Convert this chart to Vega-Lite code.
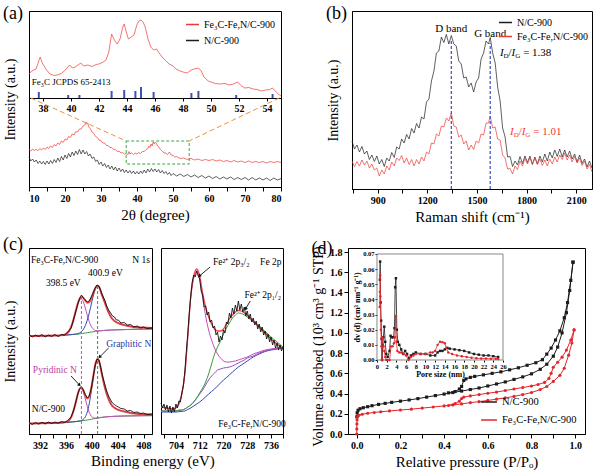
{
"$schema": "https://vega.github.io/schema/vega-lite/v6.json",
"padding": {"left": 2, "top": 4, "right": 2, "bottom": 0},
"spacing": 10,
"resolve": {"scale": {"color": "independent"}, "legend": {"color": "independent"}},
"config": {
 "font": "Liberation Serif",
 "view": {"stroke": "#000", "strokeWidth": 1},
 "axis": {"grid": false, "domainColor": "#000", "tickColor": "#000", "labelColor": "#000", "titleColor": "#000", "labelFont": "Liberation Serif", "labelFontWeight": "bold", "labelFontSize": 10, "titleFont": "Liberation Serif", "titleFontWeight": "normal", "titleFontSize": 15, "tickSize": 4, "labelPadding": 2, "titlePadding": 4, "labelOverlap": false},
 "legend": {"labelFont": "Liberation Serif", "labelFontSize": 10, "labelColor": "#000", "symbolStrokeWidth": 1.5, "rowPadding": 0, "padding": 0},
 "title": {"font": "Liberation Serif", "fontSize": 18, "fontWeight": "normal", "anchor": "start", "frame": "bounds", "offset": -12, "color": "#000"},
 "text": {"font": "Liberation Serif"}
},
"datasets": {
 "aRed": [{"x":10,"y":37.5},{"x":10.5,"y":36},{"x":11,"y":38},{"x":11.5,"y":36.5},{"x":12,"y":37.8},{"x":12.5,"y":36.2},{"x":13,"y":38.5},{"x":13.5,"y":37},{"x":14,"y":39},{"x":14.5,"y":37.5},{"x":15,"y":40},{"x":15.5,"y":38.5},{"x":16,"y":41},{"x":16.5,"y":39.5},{"x":17,"y":42.5},{"x":17.5,"y":41},{"x":18,"y":44},{"x":18.5,"y":42.5},{"x":19,"y":46},{"x":19.5,"y":44.5},{"x":20,"y":48},{"x":20.5,"y":47},{"x":21,"y":50.5},{"x":21.5,"y":49.5},{"x":22,"y":53},{"x":22.5,"y":52},{"x":23,"y":55.5},{"x":23.5,"y":55},{"x":24,"y":58},{"x":24.5,"y":58},{"x":25,"y":61},{"x":25.5,"y":62},{"x":25.8,"y":65},{"x":26,"y":63},{"x":26.3,"y":64},{"x":26.6,"y":60},{"x":27,"y":58.5},{"x":27.5,"y":55},{"x":28,"y":53.5},{"x":28.5,"y":50.5},{"x":29,"y":49.5},{"x":29.5,"y":46.8},{"x":30,"y":46.5},{"x":30.5,"y":44},{"x":31,"y":44},{"x":31.5,"y":41.5},{"x":32,"y":41.5},{"x":32.5,"y":39.5},{"x":33,"y":39.5},{"x":33.5,"y":37.5},{"x":34,"y":37.5},{"x":34.5,"y":35.5},{"x":35,"y":36},{"x":35.5,"y":34},{"x":36,"y":34.5},{"x":36.5,"y":33},{"x":37,"y":33.5},{"x":37.5,"y":32.5},{"x":37.8,"y":35.5},{"x":38,"y":33},{"x":38.5,"y":34},{"x":39,"y":32.5},{"x":39.5,"y":34},{"x":40,"y":33},{"x":40.5,"y":34.5},{"x":41,"y":33.5},{"x":41.5,"y":35.5},{"x":42,"y":35.5},{"x":42.5,"y":37.5},{"x":43,"y":38.5},{"x":43.3,"y":41},{"x":43.6,"y":39.5},{"x":43.9,"y":43},{"x":44.2,"y":41},{"x":44.5,"y":45},{"x":44.8,"y":43},{"x":45.1,"y":45},{"x":45.4,"y":43.5},{"x":45.7,"y":41},{"x":46,"y":40.5},{"x":46.5,"y":37.5},{"x":47,"y":36},{"x":47.5,"y":34},{"x":48,"y":34},{"x":48.5,"y":32.5},{"x":49,"y":35},{"x":49.5,"y":32},{"x":50,"y":31.5},{"x":50.5,"y":30},{"x":51,"y":30.5},{"x":52,"y":28.5},{"x":53,"y":29},{"x":54,"y":27.5},{"x":55,"y":28.5},{"x":56,"y":27},{"x":57,"y":28},{"x":58,"y":26.5},{"x":59,"y":27.5},{"x":60,"y":26.5},{"x":61,"y":27.5},{"x":62,"y":26},{"x":63,"y":27},{"x":64,"y":25.5},{"x":65,"y":26.5},{"x":66,"y":25},{"x":67,"y":26.5},{"x":68,"y":25},{"x":69,"y":26},{"x":70,"y":24.5},{"x":71,"y":26},{"x":72,"y":24.5},{"x":73,"y":25.5},{"x":74,"y":24.5},{"x":75,"y":25.5},{"x":76,"y":24},{"x":77,"y":25.5},{"x":78,"y":24.5},{"x":79,"y":25.5},{"x":80,"y":24.5}],
 "aBlack": [{"x":10,"y":30},{"x":10.5,"y":26},{"x":11,"y":28},{"x":11.5,"y":25},{"x":12,"y":27},{"x":12.5,"y":23.5},{"x":13,"y":26},{"x":13.5,"y":23},{"x":14,"y":25.5},{"x":14.5,"y":22.5},{"x":15,"y":26},{"x":15.5,"y":23},{"x":16,"y":26.5},{"x":16.5,"y":23.5},{"x":17,"y":27.5},{"x":17.5,"y":24.5},{"x":18,"y":29},{"x":18.5,"y":25.5},{"x":19,"y":30.5},{"x":19.5,"y":27},{"x":20,"y":32},{"x":20.5,"y":28.5},{"x":21,"y":33.5},{"x":21.5,"y":30},{"x":22,"y":35},{"x":22.5,"y":31.5},{"x":23,"y":36},{"x":23.5,"y":32.5},{"x":24,"y":37.5},{"x":24.5,"y":33},{"x":25,"y":37},{"x":25.5,"y":33},{"x":26,"y":35.5},{"x":26.5,"y":31},{"x":27,"y":33},{"x":27.5,"y":28.5},{"x":28,"y":30},{"x":28.5,"y":25.5},{"x":29,"y":27},{"x":29.5,"y":22.5},{"x":30,"y":25},{"x":30.5,"y":21},{"x":31,"y":23.5},{"x":31.5,"y":19.5},{"x":32,"y":22},{"x":32.5,"y":18},{"x":33,"y":21},{"x":33.5,"y":17},{"x":34,"y":20},{"x":34.5,"y":16},{"x":35,"y":19},{"x":35.5,"y":15.5},{"x":36,"y":18},{"x":36.5,"y":14.5},{"x":37,"y":17},{"x":37.5,"y":14},{"x":38,"y":16.5},{"x":38.5,"y":13.5},{"x":39,"y":16},{"x":39.5,"y":13},{"x":40,"y":15.5},{"x":40.5,"y":13},{"x":41,"y":16},{"x":41.5,"y":13.5},{"x":42,"y":17},{"x":42.5,"y":14},{"x":43,"y":18},{"x":43.5,"y":15},{"x":44,"y":18.5},{"x":44.5,"y":15.5},{"x":45,"y":18},{"x":45.5,"y":15},{"x":46,"y":17.5},{"x":46.5,"y":14},{"x":47,"y":16.5},{"x":47.5,"y":13.5},{"x":48,"y":15.5},{"x":48.5,"y":12.5},{"x":49,"y":14.5},{"x":49.5,"y":11.5},{"x":50,"y":13.5},{"x":51,"y":11},{"x":52,"y":13},{"x":53,"y":10.5},{"x":54,"y":12.5},{"x":55,"y":10},{"x":56,"y":12},{"x":57,"y":9.5},{"x":58,"y":11.5},{"x":59,"y":9},{"x":60,"y":11},{"x":61,"y":8.5},{"x":62,"y":10.5},{"x":63,"y":8},{"x":64,"y":10},{"x":65,"y":8},{"x":66,"y":10},{"x":67,"y":7.5},{"x":68,"y":9.5},{"x":69,"y":7.5},{"x":70,"y":9.5},{"x":71,"y":7},{"x":72,"y":9.5},{"x":73,"y":7},{"x":74,"y":9},{"x":75,"y":7},{"x":76,"y":9},{"x":77,"y":6.5},{"x":78,"y":9},{"x":79,"y":7},{"x":80,"y":8.5}],
 "aInset": [{"x":37,"y":113},{"x":37.2,"y":116},{"x":37.5,"y":118},{"x":37.65,"y":124},{"x":37.8,"y":130},{"x":37.95,"y":124},{"x":38.2,"y":118},{"x":38.5,"y":113},{"x":38.8,"y":111.5},{"x":39,"y":112},{"x":39.3,"y":113.5},{"x":39.6,"y":117},{"x":39.9,"y":122},{"x":40.1,"y":119},{"x":40.3,"y":120},{"x":40.5,"y":122},{"x":40.7,"y":124},{"x":40.9,"y":121},{"x":41.2,"y":122},{"x":41.5,"y":120.5},{"x":41.8,"y":122.5},{"x":42,"y":123},{"x":42.3,"y":125},{"x":42.5,"y":127},{"x":42.7,"y":135},{"x":42.9,"y":153},{"x":43.1,"y":147},{"x":43.3,"y":143},{"x":43.5,"y":148},{"x":43.7,"y":160},{"x":43.8,"y":163},{"x":43.95,"y":155},{"x":44.1,"y":148},{"x":44.3,"y":150},{"x":44.5,"y":152},{"x":44.7,"y":162},{"x":44.85,"y":166},{"x":45,"y":167},{"x":45.15,"y":165},{"x":45.3,"y":160},{"x":45.5,"y":148},{"x":45.7,"y":140},{"x":45.9,"y":137},{"x":46.1,"y":138},{"x":46.3,"y":134},{"x":46.5,"y":130},{"x":46.8,"y":126},{"x":47,"y":123},{"x":47.3,"y":121},{"x":47.5,"y":118},{"x":47.8,"y":116},{"x":48,"y":115},{"x":48.3,"y":114},{"x":48.6,"y":117},{"x":48.8,"y":118},{"x":49.1,"y":119},{"x":49.3,"y":116},{"x":49.5,"y":110},{"x":49.8,"y":106},{"x":50,"y":105},{"x":50.3,"y":103.5},{"x":50.6,"y":103},{"x":51,"y":103.5},{"x":51.3,"y":102},{"x":51.6,"y":103},{"x":51.9,"y":105},{"x":52.1,"y":102},{"x":52.4,"y":99},{"x":52.7,"y":99.5},{"x":53,"y":98},{"x":53.3,"y":97.5},{"x":53.6,"y":96},{"x":53.9,"y":97},{"x":54.2,"y":97.5},{"x":54.4,"y":99},{"x":54.6,"y":96},{"x":54.8,"y":93},{"x":55,"y":91}],
 "aRef": [{"x":37.7,"y":89,"y2":95},{"x":39.8,"y":89,"y2":92},{"x":40.6,"y":89,"y2":92},{"x":42.9,"y":89,"y2":96},{"x":43.8,"y":89,"y2":97},{"x":44.6,"y":89,"y2":96},{"x":45.0,"y":89,"y2":100},{"x":45.9,"y":89,"y2":95},{"x":48.6,"y":89,"y2":94},{"x":49.1,"y":89,"y2":96},{"x":51.8,"y":89,"y2":92},{"x":54.4,"y":89,"y2":93}],
 "aTxt": [{"x":37.2,"y":105,"t":"Fe₃C   JCPDS 65-2413"}],
 "aBox": [{"x":37,"x2":54.5,"y":23,"y2":46}],
 "aZoom": [{"x":10.5,"y":89,"x2":37,"y2":46},{"x":79.5,"y":89,"x2":54.5,"y2":46}],
 "bK": [{"x":745,"y":48},{"x":760,"y":40},{"x":775,"y":44},{"x":790,"y":37},{"x":805,"y":42.5},{"x":820,"y":35},{"x":835,"y":38},{"x":850,"y":29.5},{"x":865,"y":34},{"x":880,"y":27.5},{"x":895,"y":33},{"x":910,"y":25},{"x":925,"y":29.5},{"x":940,"y":22.5},{"x":955,"y":31},{"x":970,"y":28},{"x":985,"y":36.5},{"x":1000,"y":31.5},{"x":1015,"y":42},{"x":1030,"y":40},{"x":1045,"y":50},{"x":1060,"y":46},{"x":1075,"y":54.5},{"x":1090,"y":50},{"x":1105,"y":60.5},{"x":1120,"y":56},{"x":1135,"y":65.5},{"x":1150,"y":61},{"x":1165,"y":72},{"x":1180,"y":70},{"x":1195,"y":87},{"x":1210,"y":90},{"x":1225,"y":108},{"x":1240,"y":118},{"x":1255,"y":136},{"x":1270,"y":138},{"x":1285,"y":152},{"x":1300,"y":146.5},{"x":1315,"y":154.5},{"x":1330,"y":145},{"x":1345,"y":153.5},{"x":1360,"y":145},{"x":1375,"y":143},{"x":1390,"y":128},{"x":1405,"y":125},{"x":1420,"y":111},{"x":1435,"y":112},{"x":1450,"y":102},{"x":1465,"y":106},{"x":1480,"y":97},{"x":1495,"y":107},{"x":1510,"y":111},{"x":1525,"y":130},{"x":1540,"y":136},{"x":1555,"y":148},{"x":1570,"y":145},{"x":1580,"y":151.5},{"x":1595,"y":136},{"x":1610,"y":126},{"x":1625,"y":102},{"x":1640,"y":88},{"x":1655,"y":61},{"x":1670,"y":52},{"x":1685,"y":32},{"x":1700,"y":32.5},{"x":1715,"y":22.5},{"x":1730,"y":28},{"x":1745,"y":24},{"x":1760,"y":32.5},{"x":1775,"y":25.5},{"x":1790,"y":33},{"x":1805,"y":26.5},{"x":1820,"y":33},{"x":1835,"y":24.5},{"x":1850,"y":32},{"x":1865,"y":25},{"x":1880,"y":33},{"x":1895,"y":27},{"x":1910,"y":35},{"x":1925,"y":28},{"x":1940,"y":37},{"x":1955,"y":31},{"x":1970,"y":39},{"x":1985,"y":32.5},{"x":2000,"y":40},{"x":2015,"y":32},{"x":2030,"y":39},{"x":2045,"y":32},{"x":2060,"y":38},{"x":2075,"y":30},{"x":2090,"y":35},{"x":2105,"y":27},{"x":2120,"y":34},{"x":2135,"y":25.5},{"x":2150,"y":30},{"x":2165,"y":22},{"x":2180,"y":28},{"x":2195,"y":21}],
 "bR": [{"x":745,"y":28},{"x":760,"y":22.5},{"x":775,"y":27.5},{"x":790,"y":23},{"x":805,"y":29},{"x":820,"y":24},{"x":835,"y":28},{"x":850,"y":21},{"x":865,"y":25},{"x":880,"y":19},{"x":895,"y":21},{"x":910,"y":13},{"x":925,"y":19},{"x":940,"y":15},{"x":955,"y":23},{"x":970,"y":19},{"x":985,"y":27},{"x":1000,"y":23},{"x":1015,"y":31},{"x":1030,"y":28.5},{"x":1045,"y":33.5},{"x":1060,"y":26},{"x":1075,"y":31},{"x":1090,"y":24.5},{"x":1105,"y":29.5},{"x":1120,"y":23},{"x":1135,"y":29.5},{"x":1150,"y":25},{"x":1165,"y":32},{"x":1180,"y":28},{"x":1195,"y":37},{"x":1210,"y":35},{"x":1225,"y":46},{"x":1240,"y":45},{"x":1255,"y":55},{"x":1270,"y":53},{"x":1285,"y":63},{"x":1300,"y":62},{"x":1315,"y":71},{"x":1330,"y":68},{"x":1345,"y":76},{"x":1360,"y":63},{"x":1375,"y":62},{"x":1390,"y":52},{"x":1405,"y":54},{"x":1420,"y":45},{"x":1435,"y":48},{"x":1450,"y":39},{"x":1465,"y":44},{"x":1480,"y":39.5},{"x":1495,"y":48},{"x":1510,"y":46},{"x":1525,"y":55},{"x":1540,"y":54},{"x":1555,"y":66},{"x":1570,"y":66},{"x":1580,"y":73},{"x":1595,"y":61},{"x":1610,"y":62},{"x":1625,"y":50},{"x":1640,"y":49},{"x":1655,"y":34},{"x":1670,"y":31},{"x":1685,"y":20},{"x":1700,"y":20.5},{"x":1715,"y":15},{"x":1730,"y":23},{"x":1745,"y":19.5},{"x":1760,"y":28},{"x":1775,"y":23},{"x":1790,"y":30.5},{"x":1805,"y":25},{"x":1820,"y":31},{"x":1835,"y":25},{"x":1850,"y":31},{"x":1865,"y":24.5},{"x":1880,"y":30},{"x":1895,"y":23.5},{"x":1910,"y":29},{"x":1925,"y":23},{"x":1940,"y":30},{"x":1955,"y":25},{"x":1970,"y":32},{"x":1985,"y":27},{"x":2000,"y":34},{"x":2015,"y":29.5},{"x":2030,"y":36},{"x":2045,"y":29},{"x":2060,"y":34},{"x":2075,"y":27},{"x":2090,"y":32.5},{"x":2105,"y":26},{"x":2120,"y":31},{"x":2135,"y":23.5},{"x":2150,"y":28},{"x":2165,"y":20},{"x":2180,"y":24.5},{"x":2195,"y":17}],
 "bBand": [{"x":1345,"y":0,"y2":150},{"x":1580,"y":0,"y2":146}],
 "bLbl": [{"x":1345,"y":160,"t":"D band"},{"x":1580,"y":155,"t":"G band"}],
 "bRatK": [{"x":1639,"y":136,"t":"I","k":"i"},{"x":1661,"y":133,"t":"D","k":"s"},{"x":1691,"y":136,"t":"/","k":"n"},{"x":1709,"y":136,"t":"I","k":"i"},{"x":1731,"y":133,"t":"G","k":"s"},{"x":1779,"y":136,"t":"= 1.38","k":"n"}],
 "bRatR": [{"x":1700,"y":57,"t":"I","k":"i"},{"x":1722,"y":54,"t":"D","k":"s"},{"x":1752,"y":57,"t":"/","k":"n"},{"x":1770,"y":57,"t":"I","k":"i"},{"x":1792,"y":54,"t":"G","k":"s"},{"x":1840,"y":57,"t":"= 1.01","k":"n"}],
 "cN": [
  {"g":"u","x":390.3,"base":98,"pink":98,"blue":98,"fit":98},
  {"g":"u","x":392,"base":98.2,"pink":98.2,"blue":98.2,"fit":98.2},
  {"g":"u","x":394,"base":98.4,"pink":98.4,"blue":98.4,"fit":98.4},
  {"g":"u","x":395,"base":98.5,"pink":98.5,"blue":98.5,"fit":98.5},
  {"g":"u","x":396,"base":99,"pink":99.9,"blue":99,"fit":99.9},
  {"g":"u","x":396.5,"base":99.2,"pink":102.9,"blue":99.2,"fit":102.9},
  {"g":"u","x":397,"base":99.5,"pink":110.4,"blue":99.5,"fit":110.4},
  {"g":"u","x":397.5,"base":99.8,"pink":122.3,"blue":99.9,"fit":122.4},
  {"g":"u","x":398,"base":100,"pink":132.9,"blue":100.7,"fit":133.6},
  {"g":"u","x":398.3,"base":100.3,"pink":135.3,"blue":101.8,"fit":136.8},
  {"g":"u","x":398.6,"base":100.6,"pink":133.5,"blue":103.8,"fit":136.7},
  {"g":"u","x":399,"base":101,"pink":125.9,"blue":108.4,"fit":133.3},
  {"g":"u","x":399.3,"base":101.3,"pink":118.8,"blue":113.8,"fit":131.3},
  {"g":"u","x":399.6,"base":101.6,"pink":112.5,"blue":120.9,"fit":131.8},
  {"g":"u","x":400,"base":102,"pink":106.7,"blue":132,"fit":136.7},
  {"g":"u","x":400.3,"base":102.3,"pink":104.5,"blue":139.9,"fit":142.1},
  {"g":"u","x":400.6,"base":102.6,"pink":103.5,"blue":145.6,"fit":146.5},
  {"g":"u","x":400.9,"base":102.9,"pink":103.2,"blue":147.9,"fit":148.2},
  {"g":"u","x":401.2,"base":103.1,"pink":103.2,"blue":146.1,"fit":146.2},
  {"g":"u","x":401.5,"base":103.3,"pink":103.3,"blue":140.3,"fit":140.3},
  {"g":"u","x":402,"base":103.6,"pink":103.6,"blue":131.6,"fit":131.6},
  {"g":"u","x":402.5,"base":103.8,"pink":103.8,"blue":122.8,"fit":122.8},
  {"g":"u","x":403,"base":104,"pink":104,"blue":116.5,"fit":116.5},
  {"g":"u","x":403.5,"base":104.1,"pink":104.1,"blue":113.1,"fit":113.1},
  {"g":"u","x":404,"base":104.2,"pink":104.2,"blue":111.2,"fit":111.2},
  {"g":"u","x":405,"base":104.4,"pink":104.4,"blue":108.9,"fit":108.9},
  {"g":"u","x":406,"base":104.6,"pink":104.6,"blue":107.6,"fit":107.6},
  {"g":"u","x":407,"base":104.8,"pink":104.8,"blue":106.8,"fit":106.8},
  {"g":"u","x":408,"base":104.9,"pink":104.9,"blue":106.4,"fit":106.4},
  {"g":"u","x":409.3,"base":105,"pink":105,"blue":106,"fit":106},
  {"g":"l","x":390.3,"base":10.5,"pink":10.5,"blue":10.5,"fit":10.5},
  {"g":"l","x":392,"base":10.7,"pink":10.7,"blue":10.7,"fit":10.7},
  {"g":"l","x":394,"base":11,"pink":11,"blue":11,"fit":11},
  {"g":"l","x":395,"base":11.2,"pink":11.2,"blue":11.2,"fit":11.2},
  {"g":"l","x":396,"base":11.6,"pink":11.9,"blue":11.6,"fit":11.9},
  {"g":"l","x":396.5,"base":11.8,"pink":13.65,"blue":11.8,"fit":13.65},
  {"g":"l","x":397,"base":12.1,"pink":19.5,"blue":12.1,"fit":19.5},
  {"g":"l","x":397.5,"base":12.4,"pink":31.1,"blue":12.4,"fit":31.1},
  {"g":"l","x":398,"base":12.8,"pink":43.3,"blue":12.9,"fit":43.4},
  {"g":"l","x":398.3,"base":13,"pink":46,"blue":13.3,"fit":46.3},
  {"g":"l","x":398.6,"base":13.3,"pink":43.8,"blue":14.25,"fit":44.75},
  {"g":"l","x":399,"base":13.7,"pink":35,"blue":17.2,"fit":38.5},
  {"g":"l","x":399.3,"base":14,"pink":27.6,"blue":22,"fit":35.6},
  {"g":"l","x":399.6,"base":14.3,"pink":21.7,"blue":30.1,"fit":37.5},
  {"g":"l","x":400,"base":14.8,"pink":17.3,"blue":46.1,"fit":48.6},
  {"g":"l","x":400.3,"base":15.2,"pink":16.1,"blue":59.7,"fit":60.6},
  {"g":"l","x":400.6,"base":15.6,"pink":15.9,"blue":70.6,"fit":70.9},
  {"g":"l","x":400.9,"base":16,"pink":16,"blue":75,"fit":75},
  {"g":"l","x":401.2,"base":16.3,"pink":16.3,"blue":71.3,"fit":71.3},
  {"g":"l","x":401.5,"base":16.6,"pink":16.6,"blue":61.6,"fit":61.6},
  {"g":"l","x":402,"base":17,"pink":17,"blue":47,"fit":47},
  {"g":"l","x":402.5,"base":17.3,"pink":17.3,"blue":36.3,"fit":36.3},
  {"g":"l","x":403,"base":17.5,"pink":17.5,"blue":29.5,"fit":29.5},
  {"g":"l","x":403.5,"base":17.7,"pink":17.7,"blue":26.2,"fit":26.2},
  {"g":"l","x":404,"base":17.8,"pink":17.8,"blue":24.3,"fit":24.3},
  {"g":"l","x":405,"base":18,"pink":18,"blue":22.5,"fit":22.5},
  {"g":"l","x":406,"base":18.1,"pink":18.1,"blue":21.1,"fit":21.1},
  {"g":"l","x":407,"base":18.2,"pink":18.2,"blue":20.2,"fit":20.2},
  {"g":"l","x":408,"base":18.3,"pink":18.3,"blue":19.8,"fit":19.8},
  {"g":"l","x":409.3,"base":18.4,"pink":18.4,"blue":19.4,"fit":19.4}
 ],
 "cNk": [{"g":"u","x":390.3,"y":99.5},{"g":"u","x":390.8,"y":97},{"g":"u","x":391.3,"y":99},{"g":"u","x":391.8,"y":97.5},{"g":"u","x":392.3,"y":99.5},{"g":"u","x":392.8,"y":97},{"g":"u","x":393.3,"y":99},{"g":"u","x":393.8,"y":97.5},{"g":"u","x":394.3,"y":99.5},{"g":"u","x":394.8,"y":97.5},{"g":"u","x":395.3,"y":99.5},{"g":"u","x":395.8,"y":99},{"g":"u","x":396.3,"y":102},{"g":"u","x":396.8,"y":106},{"g":"u","x":397.3,"y":117},{"g":"u","x":397.8,"y":129},{"g":"u","x":398.1,"y":135},{"g":"u","x":398.4,"y":139},{"g":"u","x":398.7,"y":136},{"g":"u","x":399,"y":134},{"g":"u","x":399.3,"y":132},{"g":"u","x":399.6,"y":133},{"g":"u","x":399.9,"y":137},{"g":"u","x":400.2,"y":141},{"g":"u","x":400.5,"y":146},{"g":"u","x":400.8,"y":149},{"g":"u","x":401.1,"y":148},{"g":"u","x":401.4,"y":143},{"g":"u","x":401.7,"y":138},{"g":"u","x":402,"y":134},{"g":"u","x":402.3,"y":128},{"g":"u","x":402.6,"y":124},{"g":"u","x":402.9,"y":121},{"g":"u","x":403.2,"y":118},{"g":"u","x":403.5,"y":117},{"g":"u","x":403.8,"y":114},{"g":"u","x":404.1,"y":114},{"g":"u","x":404.5,"y":111},{"g":"u","x":405,"y":111.5},{"g":"u","x":405.5,"y":109},{"g":"u","x":406,"y":109.5},{"g":"u","x":406.5,"y":107},{"g":"u","x":407,"y":108},{"g":"u","x":407.5,"y":106},{"g":"u","x":408,"y":107},{"g":"u","x":408.5,"y":105.5},{"g":"u","x":409.3,"y":106},
  {"g":"l","x":390.3,"y":11.5},{"g":"l","x":390.8,"y":9.5},{"g":"l","x":391.3,"y":11.5},{"g":"l","x":391.8,"y":9.8},{"g":"l","x":392.3,"y":11.8},{"g":"l","x":392.8,"y":10},{"g":"l","x":393.3,"y":12},{"g":"l","x":393.8,"y":10.5},{"g":"l","x":394.3,"y":12},{"g":"l","x":394.8,"y":10.8},{"g":"l","x":395.3,"y":12.5},{"g":"l","x":395.8,"y":11.5},{"g":"l","x":396.3,"y":13.5},{"g":"l","x":396.8,"y":17},{"g":"l","x":397.3,"y":26},{"g":"l","x":397.8,"y":39},{"g":"l","x":398.1,"y":45},{"g":"l","x":398.4,"y":47.5},{"g":"l","x":398.7,"y":44},{"g":"l","x":399,"y":39.5},{"g":"l","x":399.3,"y":36},{"g":"l","x":399.6,"y":38},{"g":"l","x":399.9,"y":45},{"g":"l","x":400.2,"y":56},{"g":"l","x":400.5,"y":68},{"g":"l","x":400.8,"y":75},{"g":"l","x":401.1,"y":74},{"g":"l","x":401.4,"y":66},{"g":"l","x":401.7,"y":57},{"g":"l","x":402,"y":50},{"g":"l","x":402.3,"y":43},{"g":"l","x":402.6,"y":38},{"g":"l","x":402.9,"y":34},{"g":"l","x":403.2,"y":31},{"g":"l","x":403.5,"y":29.5},{"g":"l","x":403.8,"y":28},{"g":"l","x":404.1,"y":27},{"g":"l","x":404.5,"y":25.5},{"g":"l","x":405,"y":25},{"g":"l","x":405.5,"y":23},{"g":"l","x":406,"y":23.5},{"g":"l","x":406.5,"y":21.5},{"g":"l","x":407,"y":22},{"g":"l","x":407.5,"y":20.5},{"g":"l","x":408,"y":21},{"g":"l","x":408.5,"y":19.5},{"g":"l","x":409.3,"y":20}],
 "cNdP": [{"x":398.4,"y":0,"y2":139}],
 "cNdG": [{"x":400.9,"y":0,"y2":148}],
 "cNtK": [{"x":395.8,"y":174,"t":"Fe₃C-Fe,N/C-900"},{"x":407.6,"y":174,"t":"N 1s"},{"x":402.1,"y":161,"t":"400.9 eV"},{"x":395.6,"y":151,"t":"398.5 eV"},{"x":393.3,"y":25,"t":"N/C-900"}],
 "cNtB": [{"x":405.7,"y":90,"t":"Graphitic N"}],
 "cNtP": [{"x":394.3,"y":64,"t":"Pyridinic N"}],
 "cNa": [{"x":402.6,"y":86,"x2":401.2,"y2":77},{"x":396.8,"y":58,"x2":398.1,"y2":49}],
 "cNh1": [{"x":401.2,"y":77}],
 "cNh2": [{"x":398.1,"y":49}],
 "cF": [
  {"x":699,"fit":27,"pink":27,"purple":23,"blue":22,"green":23},
  {"x":701,"fit":26,"pink":26,"purple":23,"blue":22,"green":23},
  {"x":703,"fit":25,"pink":25,"purple":23,"blue":22,"green":23},
  {"x":704,"fit":26,"pink":26,"purple":23,"blue":22,"green":23},
  {"x":705,"fit":30,"pink":30,"purple":24,"blue":22.3,"green":23.5},
  {"x":706,"fit":40,"pink":40,"purple":24,"blue":22.6,"green":24},
  {"x":707,"fit":60,"pink":60,"purple":25,"blue":23,"green":25},
  {"x":708,"fit":98,"pink":97,"purple":27,"blue":24.5,"green":27},
  {"x":709,"fit":138,"pink":136,"purple":29,"blue":26,"green":29},
  {"x":710,"fit":158,"pink":156,"purple":32,"blue":28,"green":32},
  {"x":711,"fit":165,"pink":163,"purple":36,"blue":30,"green":36},
  {"x":712,"fit":158,"pink":155,"purple":40,"blue":32,"green":41},
  {"x":713,"fit":141,"pink":136,"purple":44,"blue":34.5,"green":46},
  {"x":714,"fit":127,"pink":118,"purple":49,"blue":37,"green":52},
  {"x":715,"fit":117,"pink":104,"purple":54,"blue":40,"green":60},
  {"x":716,"fit":110,"pink":94,"purple":58,"blue":42.5,"green":70},
  {"x":717,"fit":105,"pink":86,"purple":61,"blue":45,"green":80},
  {"x":718,"fit":103,"pink":80,"purple":64,"blue":48,"green":87},
  {"x":719,"fit":103,"pink":76,"purple":65,"blue":51,"green":93},
  {"x":720,"fit":105,"pink":73,"purple":66,"blue":54,"green":100},
  {"x":721,"fit":110,"pink":72,"purple":66.5,"blue":56.5,"green":106},
  {"x":722,"fit":115,"pink":72,"purple":67,"blue":59,"green":111},
  {"x":723,"fit":119,"pink":72.5,"purple":68,"blue":62,"green":116},
  {"x":724,"fit":122,"pink":73,"purple":69.5,"blue":64.5,"green":119},
  {"x":725,"fit":123.5,"pink":74,"purple":71,"blue":67,"green":121},
  {"x":726,"fit":123,"pink":75,"purple":72.5,"blue":69,"green":120.5},
  {"x":727,"fit":121,"pink":76,"purple":74,"blue":71,"green":119},
  {"x":728,"fit":119,"pink":77,"purple":76,"blue":73,"green":117},
  {"x":730,"fit":113,"pink":80,"purple":78,"blue":77,"green":112},
  {"x":732,"fit":107,"pink":82,"purple":81,"blue":80,"green":108},
  {"x":734,"fit":101,"pink":84,"purple":83,"blue":82.5,"green":102.5},
  {"x":736,"fit":95,"pink":85,"purple":84.5,"blue":84,"green":97},
  {"x":738,"fit":90,"pink":86,"purple":85.5,"blue":85,"green":92},
  {"x":740,"fit":86,"pink":86,"purple":86,"blue":86,"green":87}
 ],
 "cFk": [{"x":699,"y":31},{"x":699.5,"y":26},{"x":700,"y":30},{"x":700.5,"y":24},{"x":701,"y":29},{"x":701.5,"y":22},{"x":702,"y":28},{"x":702.5,"y":21},{"x":703,"y":27},{"x":703.5,"y":22},{"x":704,"y":30},{"x":704.5,"y":26},{"x":705,"y":33},{"x":705.5,"y":32},{"x":706,"y":41},{"x":706.5,"y":48},{"x":707,"y":62},{"x":707.5,"y":82},{"x":708,"y":100},{"x":708.5,"y":121},{"x":709,"y":138},{"x":709.5,"y":152},{"x":710,"y":159},{"x":710.5,"y":157},{"x":711,"y":163},{"x":711.5,"y":158},{"x":712,"y":155},{"x":712.5,"y":143},{"x":713,"y":139},{"x":713.5,"y":127},{"x":714,"y":128},{"x":714.5,"y":119},{"x":715,"y":122},{"x":715.5,"y":112},{"x":716,"y":114},{"x":716.5,"y":106},{"x":717,"y":108},{"x":717.5,"y":99},{"x":718,"y":102},{"x":718.5,"y":92},{"x":719,"y":98},{"x":719.5,"y":94},{"x":720,"y":104},{"x":720.5,"y":101},{"x":721,"y":112},{"x":721.5,"y":110},{"x":722,"y":121},{"x":722.5,"y":116},{"x":723,"y":126},{"x":723.5,"y":120},{"x":724,"y":129},{"x":724.5,"y":123},{"x":725,"y":133},{"x":725.5,"y":124},{"x":726,"y":130},{"x":726.5,"y":122},{"x":727,"y":127},{"x":727.5,"y":118},{"x":728,"y":123},{"x":728.5,"y":115},{"x":729,"y":120},{"x":729.5,"y":112},{"x":730,"y":116},{"x":730.5,"y":109},{"x":731,"y":113},{"x":731.5,"y":105},{"x":732,"y":110},{"x":732.5,"y":102},{"x":733,"y":107},{"x":733.5,"y":99},{"x":734,"y":103},{"x":734.5,"y":95},{"x":735,"y":100},{"x":735.5,"y":92},{"x":736,"y":97},{"x":736.5,"y":89},{"x":737,"y":94},{"x":737.5,"y":86},{"x":738,"y":91},{"x":738.5,"y":84},{"x":739,"y":89},{"x":739.5,"y":83},{"x":740,"y":87}],
 "cFt": [{"x":722.6,"y":172,"t":"Fe²⁺ 2p₃/₂"},{"x":735.9,"y":172,"t":"Fe 2p"},{"x":733.2,"y":139,"t":"Fe²⁺ 2p₁/₂"},{"x":729.6,"y":10,"t":"Fe₃C-Fe,N/C-900"}],
 "cFa": [{"x":715.5,"y":167,"x2":711.9,"y2":158},{"x":729,"y":133,"x2":727.4,"y2":125}],
 "cFh": [{"x":711.9,"y":158},{"x":727.4,"y":125}],
 "dK": [{"b":"a","x":0.0005,"y":0.17},{"b":"a","x":0.002,"y":0.21},{"b":"a","x":0.006,"y":0.235},{"b":"a","x":0.015,"y":0.25},{"b":"a","x":0.03,"y":0.26},{"b":"a","x":0.05,"y":0.27},{"b":"a","x":0.07,"y":0.28},{"b":"a","x":0.1,"y":0.293},{"b":"a","x":0.13,"y":0.303},{"b":"a","x":0.16,"y":0.313},{"b":"a","x":0.2,"y":0.325},{"b":"a","x":0.24,"y":0.337},{"b":"a","x":0.28,"y":0.35},{"b":"a","x":0.32,"y":0.365},{"b":"a","x":0.36,"y":0.38},{"b":"a","x":0.4,"y":0.395},{"b":"a","x":0.44,"y":0.41},{"b":"a","x":0.48,"y":0.425},{"b":"a","x":0.52,"y":0.44},{"b":"a","x":0.56,"y":0.455},{"b":"a","x":0.6,"y":0.475},{"b":"a","x":0.64,"y":0.495},{"b":"a","x":0.68,"y":0.515},{"b":"a","x":0.72,"y":0.54},{"b":"a","x":0.76,"y":0.565},{"b":"a","x":0.8,"y":0.595},{"b":"a","x":0.84,"y":0.64},{"b":"a","x":0.87,"y":0.69},{"b":"a","x":0.9,"y":0.77},{"b":"a","x":0.92,"y":0.86},{"b":"a","x":0.94,"y":1.0},{"b":"a","x":0.96,"y":1.2},{"b":"a","x":0.975,"y":1.42},{"b":"a","x":0.99,"y":1.7},
  {"b":"d","x":0.99,"y":1.7},{"b":"d","x":0.98,"y":1.52},{"b":"d","x":0.965,"y":1.3},{"b":"d","x":0.95,"y":1.15},{"b":"d","x":0.93,"y":1.02},{"b":"d","x":0.91,"y":0.93},{"b":"d","x":0.89,"y":0.85},{"b":"d","x":0.87,"y":0.79},{"b":"d","x":0.85,"y":0.735},{"b":"d","x":0.82,"y":0.705},{"b":"d","x":0.78,"y":0.68},{"b":"d","x":0.74,"y":0.655},{"b":"d","x":0.7,"y":0.635},{"b":"d","x":0.66,"y":0.615},{"b":"d","x":0.62,"y":0.6},{"b":"d","x":0.58,"y":0.585},{"b":"d","x":0.54,"y":0.57},{"b":"d","x":0.52,"y":0.56},{"b":"d","x":0.5,"y":0.545},{"b":"d","x":0.49,"y":0.53},{"b":"d","x":0.48,"y":0.47},{"b":"d","x":0.47,"y":0.445},{"b":"d","x":0.45,"y":0.42},{"b":"d","x":0.42,"y":0.407}],
 "dR": [{"b":"a","x":0,"y":0},{"b":"a","x":0.0003,"y":0.05},{"b":"a","x":0.0008,"y":0.1},{"b":"a","x":0.0015,"y":0.14},{"b":"a","x":0.004,"y":0.17},{"b":"a","x":0.01,"y":0.185},{"b":"a","x":0.025,"y":0.195},{"b":"a","x":0.05,"y":0.205},{"b":"a","x":0.08,"y":0.213},{"b":"a","x":0.11,"y":0.22},{"b":"a","x":0.15,"y":0.228},{"b":"a","x":0.2,"y":0.237},{"b":"a","x":0.25,"y":0.246},{"b":"a","x":0.3,"y":0.256},{"b":"a","x":0.35,"y":0.267},{"b":"a","x":0.4,"y":0.278},{"b":"a","x":0.44,"y":0.288},{"b":"a","x":0.48,"y":0.298},{"b":"a","x":0.52,"y":0.31},{"b":"a","x":0.56,"y":0.32},{"b":"a","x":0.6,"y":0.332},{"b":"a","x":0.64,"y":0.345},{"b":"a","x":0.68,"y":0.358},{"b":"a","x":0.72,"y":0.372},{"b":"a","x":0.76,"y":0.39},{"b":"a","x":0.8,"y":0.41},{"b":"a","x":0.84,"y":0.44},{"b":"a","x":0.87,"y":0.47},{"b":"a","x":0.9,"y":0.52},{"b":"a","x":0.93,"y":0.58},{"b":"a","x":0.95,"y":0.65},{"b":"a","x":0.97,"y":0.78},{"b":"a","x":0.985,"y":0.9},{"b":"a","x":0.995,"y":1.03},
  {"b":"d","x":0.995,"y":1.03},{"b":"d","x":0.98,"y":0.93},{"b":"d","x":0.96,"y":0.83},{"b":"d","x":0.94,"y":0.76},{"b":"d","x":0.92,"y":0.71},{"b":"d","x":0.9,"y":0.66},{"b":"d","x":0.89,"y":0.6},{"b":"d","x":0.88,"y":0.55},{"b":"d","x":0.86,"y":0.51},{"b":"d","x":0.83,"y":0.49},{"b":"d","x":0.8,"y":0.475},{"b":"d","x":0.76,"y":0.46},{"b":"d","x":0.72,"y":0.445},{"b":"d","x":0.68,"y":0.43},{"b":"d","x":0.64,"y":0.415},{"b":"d","x":0.6,"y":0.403},{"b":"d","x":0.56,"y":0.39},{"b":"d","x":0.52,"y":0.377},{"b":"d","x":0.49,"y":0.365},{"b":"d","x":0.48,"y":0.35},{"b":"d","x":0.47,"y":0.325},{"b":"d","x":0.45,"y":0.3},{"b":"d","x":0.42,"y":0.282}],
 "dKi": [{"x":0.6,"y":0.053},{"x":0.65,"y":0.065},{"x":0.75,"y":0.038},{"x":0.85,"y":0.026},{"x":0.95,"y":0.014},{"x":1.05,"y":0.0},{"x":1.15,"y":0.01},{"x":1.3,"y":0.015},{"x":1.5,"y":0.022},{"x":1.7,"y":0.012},{"x":1.9,"y":0.004},{"x":2.2,"y":0.002},{"x":2.6,"y":0.006},{"x":2.8,"y":0.016},{"x":3.1,"y":0.015},{"x":3.4,"y":0.015},{"x":3.6,"y":0.021},{"x":3.75,"y":0.048},{"x":3.9,"y":0.054},{"x":4.1,"y":0.02},{"x":4.3,"y":0.012},{"x":4.6,"y":0.01},{"x":5,"y":0.007},{"x":5.4,"y":0.004},{"x":5.8,"y":0.006},{"x":6.2,"y":0.004},{"x":6.6,"y":0.001},{"x":7,"y":0.003},{"x":7.5,"y":0.004},{"x":8,"y":0.005},{"x":9,"y":0.004},{"x":10,"y":0.004},{"x":11,"y":0.003},{"x":12,"y":0.003},{"x":12.5,"y":0.005},{"x":13,"y":0.006},{"x":13.5,"y":0.006},{"x":14,"y":0.007},{"x":14.5,"y":0.008},{"x":15,"y":0.0075},{"x":16,"y":0.007},{"x":17,"y":0.0065},{"x":18,"y":0.006},{"x":19,"y":0.005},{"x":20,"y":0.004},{"x":21,"y":0.0035},{"x":22,"y":0.003},{"x":23,"y":0.003},{"x":24,"y":0.0025},{"x":25,"y":0.002}],
 "dRi": [{"x":0.55,"y":0.035},{"x":0.6,"y":0.045},{"x":0.65,"y":0.056},{"x":0.7,"y":0.042},{"x":0.8,"y":0.02},{"x":0.9,"y":0.009},{"x":1.0,"y":0.0},{"x":1.1,"y":0.015},{"x":1.2,"y":0.014},{"x":1.35,"y":0.009},{"x":1.5,"y":0.006},{"x":1.7,"y":0.002},{"x":1.9,"y":0.0},{"x":2.2,"y":0.0},{"x":2.6,"y":0.0},{"x":2.9,"y":0.009},{"x":3.2,"y":0.009},{"x":3.5,"y":0.011},{"x":3.7,"y":0.015},{"x":3.85,"y":0.029},{"x":4.0,"y":0.012},{"x":4.2,"y":0.006},{"x":4.6,"y":0.005},{"x":5.0,"y":0.005},{"x":5.5,"y":0.004},{"x":6.0,"y":0.003},{"x":6.5,"y":0.0},{"x":7,"y":0.002},{"x":7.5,"y":0.003},{"x":8,"y":0.004},{"x":9,"y":0.004},{"x":10,"y":0.004},{"x":11,"y":0.005},{"x":11.5,"y":0.005},{"x":12,"y":0.006},{"x":12.5,"y":0.01},{"x":13,"y":0.012},{"x":13.5,"y":0.0118},{"x":14,"y":0.011},{"x":14.3,"y":0.008},{"x":14.7,"y":0.005},{"x":15.5,"y":0.004},{"x":16.5,"y":0.003},{"x":17.5,"y":0.0025},{"x":18.5,"y":0.002},{"x":19.5,"y":0.0015},{"x":20.5,"y":0.0012},{"x":21.5,"y":0.001},{"x":22.5,"y":0.001},{"x":23.5,"y":0.0008},{"x":24.5,"y":0.0008},{"x":25,"y":0.0007}],
 "dFrame": [{"x":0,"x2":26,"y":0,"y2":0.07}]
},
"vconcat": [
 {
  "hconcat": [
   {
    "width": 252, "height": 176,
    "title": {"text": "(a)"},
    "resolve": {"scale": {"x": "independent"}, "axis": {"x": "independent"}},
    "layer": [
     {"layer": [
      {"data": {"name": "aBlack"}, "mark": {"type": "line", "strokeWidth": 0.7},
       "encoding": {
        "x": {"field": "x", "type": "quantitative", "scale": {"domain": [10, 80], "nice": false, "zero": false}, "axis": {"values": [10,15,20,25,30,35,40,45,50,55,60,65,70,75,80], "tickCount": 100, "format": "d", "labelExpr": "datum.value % 10 == 0 ? datum.label : ''", "labelOverlap": false, "title": "2θ (degree)"}},
        "y": {"field": "y", "type": "quantitative", "scale": {"domain": [0, 176], "nice": false, "zero": false}, "axis": {"labels": false, "ticks": false, "title": "Intensity (a.u.)", "titleFontSize": 14, "titlePadding": 12}},
        "color": {"datum": "N/C-900", "type": "nominal", "scale": {"domain": ["Fe₃C-Fe,N/C-900", "N/C-900"], "range": ["#ee3a33", "#1c1c1c"]}, "legend": {"title": null, "orient": "top-right", "offset": 6, "symbolType": "stroke", "symbolSize": 170, "labelFontSize": 10, "rowPadding": 3}}
       }},
      {"data": {"name": "aRed"}, "mark": {"type": "line", "strokeWidth": 0.7},
       "encoding": {
        "x": {"field": "x", "type": "quantitative", "scale": {"domain": [10, 80], "nice": false, "zero": false}},
        "y": {"field": "y", "type": "quantitative", "scale": {"domain": [0, 176], "nice": false, "zero": false}},
        "color": {"datum": "Fe₃C-Fe,N/C-900", "type": "nominal"}
       }},
      {"data": {"name": "aBox"}, "mark": {"type": "rect", "filled": false, "stroke": "#3aa83a", "strokeDash": [3, 2], "strokeWidth": 1},
       "encoding": {
        "x": {"field": "x", "type": "quantitative", "scale": {"domain": [10, 80], "nice": false, "zero": false}},
        "x2": {"field": "x2"},
        "y": {"field": "y", "type": "quantitative", "scale": {"domain": [0, 176], "nice": false, "zero": false}},
        "y2": {"field": "y2"}
       }},
      {"data": {"name": "aZoom"}, "mark": {"type": "rule", "stroke": "#f0903a", "strokeDash": [5, 3], "strokeWidth": 1},
       "encoding": {
        "x": {"field": "x", "type": "quantitative", "scale": {"domain": [10, 80], "nice": false, "zero": false}},
        "x2": {"field": "x2"},
        "y": {"field": "y", "type": "quantitative", "scale": {"domain": [0, 176], "nice": false, "zero": false}},
        "y2": {"field": "y2"}
       }}
     ]},
     {"layer": [
      {"data": {"name": "aInset"}, "mark": {"type": "line", "strokeWidth": 0.7},
       "encoding": {
        "x": {"field": "x", "type": "quantitative", "scale": {"domain": [37, 55], "nice": false, "zero": false}, "axis": {"orient": "bottom", "offset": -89, "values": [38,40,42,44,46,48,50,52,54], "tickCount": 100, "format": "d", "labelOverlap": false, "title": null, "tickSize": 3}},
        "y": {"field": "y", "type": "quantitative", "scale": {"domain": [0, 176], "nice": false, "zero": false}},
        "color": {"datum": "Fe₃C-Fe,N/C-900", "type": "nominal"}
       }},
      {"data": {"name": "aRef"}, "mark": {"type": "rule", "stroke": "#3f52b5", "strokeWidth": 2},
       "encoding": {
        "x": {"field": "x", "type": "quantitative", "scale": {"domain": [37, 55], "nice": false, "zero": false}},
        "y": {"field": "y", "type": "quantitative", "scale": {"domain": [0, 176], "nice": false, "zero": false}},
        "y2": {"field": "y2"}
       }},
      {"data": {"name": "aTxt"}, "mark": {"type": "text", "align": "left", "baseline": "middle", "fontSize": 9},
       "encoding": {
        "x": {"field": "x", "type": "quantitative", "scale": {"domain": [37, 55], "nice": false, "zero": false}},
        "y": {"field": "y", "type": "quantitative", "scale": {"domain": [0, 176], "nice": false, "zero": false}},
        "text": {"field": "t"}
       }}
     ]}
    ]
   },
   {
    "width": 240, "height": 178,
    "title": {"text": "(b)"},
    "encoding": {
     "x": {"field": "x", "type": "quantitative", "scale": {"domain": [745, 2195], "nice": false, "zero": false}, "axis": {"values": [750,900,1050,1200,1350,1500,1650,1800,1950,2100], "tickCount": 100, "format": "d", "labelExpr": "datum.value % 300 == 0 ? datum.label : ''", "labelOverlap": false, "title": "Raman shift (cm⁻¹)"}},
     "y": {"field": "y", "type": "quantitative", "scale": {"domain": [0, 178], "nice": false, "zero": false}, "axis": {"labels": false, "ticks": false, "title": "Intensity (a.u.)", "titleFontSize": 14, "titlePadding": 12}}
    },
    "layer": [
     {"data": {"name": "bK"}, "mark": {"type": "line", "strokeWidth": 0.7},
      "encoding": {"color": {"datum": "N/C-900", "type": "nominal", "scale": {"domain": ["N/C-900", "Fe₃C-Fe,N/C-900"], "range": ["#1c1c1c", "#ee3a33"]}, "legend": {"title": null, "orient": "top-right", "offset": 4, "symbolType": "stroke", "symbolSize": 170, "labelFontSize": 10, "rowPadding": 1}}}},
     {"data": {"name": "bR"}, "mark": {"type": "line", "strokeWidth": 0.7},
      "encoding": {"color": {"datum": "Fe₃C-Fe,N/C-900", "type": "nominal"}}},
     {"data": {"name": "bBand"}, "mark": {"type": "rule", "stroke": "#3a4fbf", "strokeDash": [3, 2], "strokeWidth": 1.2},
      "encoding": {"y2": {"field": "y2"}}},
     {"data": {"name": "bLbl"}, "mark": {"type": "text", "fontSize": 11, "baseline": "middle", "color": "#000"},
      "encoding": {"text": {"field": "t"}}},
     {"data": {"name": "bRatK"}, "transform": [{"filter": "datum.k == 'i'"}], "mark": {"type": "text", "align": "left", "baseline": "middle", "fontSize": 11, "fontStyle": "italic", "color": "#000"}, "encoding": {"text": {"field": "t"}}},
     {"data": {"name": "bRatK"}, "transform": [{"filter": "datum.k == 's'"}], "mark": {"type": "text", "align": "left", "baseline": "middle", "fontSize": 7, "color": "#000"}, "encoding": {"text": {"field": "t"}}},
     {"data": {"name": "bRatK"}, "transform": [{"filter": "datum.k == 'n'"}], "mark": {"type": "text", "align": "left", "baseline": "middle", "fontSize": 11, "color": "#000"}, "encoding": {"text": {"field": "t"}}},
     {"data": {"name": "bRatR"}, "transform": [{"filter": "datum.k == 'i'"}], "mark": {"type": "text", "align": "left", "baseline": "middle", "fontSize": 11, "fontStyle": "italic", "color": "#ee3a33"}, "encoding": {"text": {"field": "t"}}},
     {"data": {"name": "bRatR"}, "transform": [{"filter": "datum.k == 's'"}], "mark": {"type": "text", "align": "left", "baseline": "middle", "fontSize": 7, "color": "#ee3a33"}, "encoding": {"text": {"field": "t"}}},
     {"data": {"name": "bRatR"}, "transform": [{"filter": "datum.k == 'n'"}], "mark": {"type": "text", "align": "left", "baseline": "middle", "fontSize": 11, "color": "#ee3a33"}, "encoding": {"text": {"field": "t"}}}
    ]
   }
  ],
  "spacing": 42,
  "resolve": {"scale": {"color": "independent"}, "legend": {"color": "independent"}}
 },
 {
  "hconcat": [
   {
    "hconcat": [
     {
      "width": 123, "height": 186,
      "title": {"text": "(c)", "offset": -6},
      "encoding": {
       "x": {"field": "x", "type": "quantitative", "scale": {"domain": [390.3, 409.3], "nice": false, "zero": false}, "axis": {"values": [392,394,396,398,400,402,404,406,408], "tickCount": 100, "format": "d", "labelExpr": "datum.value % 4 == 0 ? datum.label : ''", "labelOverlap": false, "title": null}}
      },
      "layer": [
       {"data": {"name": "cN"}, "mark": {"type": "line", "stroke": "#3c9b3c", "strokeWidth": 1, "interpolate": "monotone"},
        "encoding": {"y": {"field": "base", "type": "quantitative", "scale": {"domain": [0, 186], "nice": false, "zero": false}, "axis": {"labels": false, "ticks": false, "title": "Intensity (a.u.)", "titleFontSize": 14, "titlePadding": 12}}, "detail": {"field": "g"}}},
       {"data": {"name": "cN"}, "mark": {"type": "line", "stroke": "#c64db8", "strokeWidth": 1, "interpolate": "monotone"},
        "encoding": {"y": {"field": "pink", "type": "quantitative", "scale": {"domain": [0, 186], "nice": false, "zero": false}, "axis": {"labels": false, "ticks": false, "title": "Intensity (a.u.)", "titleFontSize": 14, "titlePadding": 12}}, "detail": {"field": "g"}}},
       {"data": {"name": "cN"}, "mark": {"type": "line", "stroke": "#3446b0", "strokeWidth": 1, "interpolate": "monotone"},
        "encoding": {"y": {"field": "blue", "type": "quantitative", "scale": {"domain": [0, 186], "nice": false, "zero": false}, "axis": {"labels": false, "ticks": false, "title": "Intensity (a.u.)", "titleFontSize": 14, "titlePadding": 12}}, "detail": {"field": "g"}}},
       {"data": {"name": "cN"}, "mark": {"type": "line", "stroke": "#e8332e", "strokeWidth": 2, "opacity": 0.85, "interpolate": "monotone"},
        "encoding": {"y": {"field": "fit", "type": "quantitative", "scale": {"domain": [0, 186], "nice": false, "zero": false}, "axis": {"labels": false, "ticks": false, "title": "Intensity (a.u.)", "titleFontSize": 14, "titlePadding": 12}}, "detail": {"field": "g"}}},
       {"data": {"name": "cNk"}, "mark": {"type": "line", "stroke": "#111", "strokeWidth": 0.9},
        "encoding": {"y": {"field": "y", "type": "quantitative", "scale": {"domain": [0, 186], "nice": false, "zero": false}, "axis": {"labels": false, "ticks": false, "title": "Intensity (a.u.)", "titleFontSize": 14, "titlePadding": 12}}, "detail": {"field": "g"}}},
       {"data": {"name": "cNdP"}, "mark": {"type": "rule", "stroke": "#c64db8", "strokeDash": [3, 2], "strokeWidth": 1},
        "encoding": {"y": {"field": "y", "type": "quantitative", "scale": {"domain": [0, 186], "nice": false, "zero": false}, "axis": {"labels": false, "ticks": false, "title": "Intensity (a.u.)", "titleFontSize": 14, "titlePadding": 12}}, "y2": {"field": "y2"}}},
       {"data": {"name": "cNdG"}, "mark": {"type": "rule", "stroke": "#2f9a3a", "strokeDash": [3, 2], "strokeWidth": 1},
        "encoding": {"y": {"field": "y", "type": "quantitative", "scale": {"domain": [0, 186], "nice": false, "zero": false}, "axis": {"labels": false, "ticks": false, "title": "Intensity (a.u.)", "titleFontSize": 14, "titlePadding": 12}}, "y2": {"field": "y2"}}},
       {"data": {"name": "cNa"}, "mark": {"type": "rule", "stroke": "#111", "strokeWidth": 0.9},
        "encoding": {"y": {"field": "y", "type": "quantitative", "scale": {"domain": [0, 186], "nice": false, "zero": false}, "axis": {"labels": false, "ticks": false, "title": "Intensity (a.u.)", "titleFontSize": 14, "titlePadding": 12}}, "x2": {"field": "x2"}, "y2": {"field": "y2"}}},
       {"data": {"name": "cNh1"}, "mark": {"type": "point", "shape": "triangle-up", "filled": true, "color": "#111", "size": 14, "angle": 225, "opacity": 1},
        "encoding": {"y": {"field": "y", "type": "quantitative", "scale": {"domain": [0, 186], "nice": false, "zero": false}, "axis": {"labels": false, "ticks": false, "title": "Intensity (a.u.)", "titleFontSize": 14, "titlePadding": 12}}}},
       {"data": {"name": "cNh2"}, "mark": {"type": "point", "shape": "triangle-up", "filled": true, "color": "#111", "size": 14, "angle": 135, "opacity": 1},
        "encoding": {"y": {"field": "y", "type": "quantitative", "scale": {"domain": [0, 186], "nice": false, "zero": false}, "axis": {"labels": false, "ticks": false, "title": "Intensity (a.u.)", "titleFontSize": 14, "titlePadding": 12}}}},
       {"data": {"name": "cNtK"}, "mark": {"type": "text", "fontSize": 9.5, "baseline": "middle", "color": "#000"},
        "encoding": {"y": {"field": "y", "type": "quantitative", "scale": {"domain": [0, 186], "nice": false, "zero": false}, "axis": {"labels": false, "ticks": false, "title": "Intensity (a.u.)", "titleFontSize": 14, "titlePadding": 12}}, "text": {"field": "t"}}},
       {"data": {"name": "cNtB"}, "mark": {"type": "text", "fontSize": 9.5, "baseline": "middle", "color": "#2b3ea8"},
        "encoding": {"y": {"field": "y", "type": "quantitative", "scale": {"domain": [0, 186], "nice": false, "zero": false}, "axis": {"labels": false, "ticks": false, "title": "Intensity (a.u.)", "titleFontSize": 14, "titlePadding": 12}}, "text": {"field": "t"}}},
       {"data": {"name": "cNtP"}, "mark": {"type": "text", "fontSize": 9.5, "baseline": "middle", "color": "#c0409f"},
        "encoding": {"y": {"field": "y", "type": "quantitative", "scale": {"domain": [0, 186], "nice": false, "zero": false}, "axis": {"labels": false, "ticks": false, "title": "Intensity (a.u.)", "titleFontSize": 14, "titlePadding": 12}}, "text": {"field": "t"}}}
      ]
     },
     {
      "width": 122, "height": 186,
      "encoding": {
       "x": {"field": "x", "type": "quantitative", "scale": {"domain": [699, 740], "nice": false, "zero": false}, "axis": {"values": [700,704,708,712,716,720,724,728,732,736,740], "tickCount": 100, "format": "d", "labelExpr": "(datum.value - 704) % 8 == 0 ? datum.label : ''", "labelOverlap": false, "title": null}}
      },
      "layer": [
       {"data": {"name": "cF"}, "mark": {"type": "line", "stroke": "#3446b0", "strokeWidth": 1, "interpolate": "monotone"},
        "encoding": {"y": {"field": "blue", "type": "quantitative", "scale": {"domain": [0, 186], "nice": false, "zero": false}, "axis": null}}},
       {"data": {"name": "cF"}, "mark": {"type": "line", "stroke": "#8e4fc0", "strokeWidth": 1, "interpolate": "monotone"},
        "encoding": {"y": {"field": "purple", "type": "quantitative", "scale": {"domain": [0, 186], "nice": false, "zero": false}, "axis": null}}},
       {"data": {"name": "cF"}, "mark": {"type": "line", "stroke": "#3c9b3c", "strokeWidth": 1, "interpolate": "monotone"},
        "encoding": {"y": {"field": "green", "type": "quantitative", "scale": {"domain": [0, 186], "nice": false, "zero": false}, "axis": null}}},
       {"data": {"name": "cF"}, "mark": {"type": "line", "stroke": "#c64db8", "strokeWidth": 1, "interpolate": "monotone"},
        "encoding": {"y": {"field": "pink", "type": "quantitative", "scale": {"domain": [0, 186], "nice": false, "zero": false}, "axis": null}}},
       {"data": {"name": "cF"}, "mark": {"type": "line", "stroke": "#f0454a", "strokeWidth": 1.3, "interpolate": "monotone"},
        "encoding": {"y": {"field": "fit", "type": "quantitative", "scale": {"domain": [0, 186], "nice": false, "zero": false}, "axis": null}}},
       {"data": {"name": "cFk"}, "mark": {"type": "line", "stroke": "#111", "strokeWidth": 0.9},
        "encoding": {"y": {"field": "y", "type": "quantitative", "scale": {"domain": [0, 186], "nice": false, "zero": false}, "axis": null}}},
       {"data": {"name": "cFa"}, "mark": {"type": "rule", "stroke": "#111", "strokeWidth": 0.9},
        "encoding": {"y": {"field": "y", "type": "quantitative", "scale": {"domain": [0, 186], "nice": false, "zero": false}, "axis": null}, "x2": {"field": "x2"}, "y2": {"field": "y2"}}},
       {"data": {"name": "cFh"}, "mark": {"type": "point", "shape": "triangle-up", "filled": true, "color": "#111", "size": 14, "angle": 220, "opacity": 1},
        "encoding": {"y": {"field": "y", "type": "quantitative", "scale": {"domain": [0, 186], "nice": false, "zero": false}, "axis": null}}},
       {"data": {"name": "cFt"}, "mark": {"type": "text", "fontSize": 9.5, "baseline": "middle", "color": "#000"},
        "encoding": {"y": {"field": "y", "type": "quantitative", "scale": {"domain": [0, 186], "nice": false, "zero": false}, "axis": null}, "text": {"field": "t"}}}
      ]
     }
    ],
    "spacing": 0,
    "title": {"text": "Binding energy (eV)", "orient": "bottom", "anchor": "start", "frame": "group", "fontSize": 15, "offset": 3, "dx": 62}
   },
   {
    "width": 237, "height": 186,
    "title": {"text": "(d)"},
    "resolve": {"scale": {"x": "independent", "y": "independent"}, "axis": {"x": "independent", "y": "independent"}},
    "layer": [
     {"layer": [
      {"data": {"name": "dK"}, "mark": {"type": "line", "strokeWidth": 1, "point": {"shape": "square", "size": 10, "filled": true}},
       "encoding": {
        "x": {"field": "x", "type": "quantitative", "scale": {"domain": [-0.04, 1.045], "nice": false, "zero": false}, "axis": {"values": [0,0.1,0.2,0.3,0.4,0.5,0.6,0.7,0.8,0.9,1.0], "tickCount": 100, "format": ".1f", "labelExpr": "round(datum.value*10) % 2 == 0 ? datum.label : ''", "labelOverlap": false, "title": "Relative pressure (P/Pₒ)"}},
        "y": {"field": "y", "type": "quantitative", "scale": {"domain": [0, 1.84], "nice": false, "zero": false}, "axis": {"values": [0,0.2,0.4,0.6,0.8,1.0,1.2,1.4,1.6,1.8], "tickCount": 100, "format": ".1f", "labelOverlap": false, "title": "Volume adsorbed (10³ cm³ g⁻¹ STP)", "titleFontSize": 14, "titlePadding": 4, "titleY": 98}},
        "detail": {"field": "b"},
        "color": {"datum": "N/C-900", "type": "nominal", "scale": {"domain": ["N/C-900", "Fe₃C-Fe,N/C-900"], "range": ["#1c1c1c", "#e3262b"]}, "legend": {"title": null, "orient": "bottom-right", "offset": 8, "symbolType": "stroke", "symbolSize": 250, "labelFontSize": 10.5, "rowPadding": 3}}
       }},
      {"data": {"name": "dR"}, "mark": {"type": "line", "strokeWidth": 1, "point": {"shape": "circle", "size": 10, "filled": true}},
       "encoding": {
        "x": {"field": "x", "type": "quantitative", "scale": {"domain": [-0.04, 1.045], "nice": false, "zero": false}},
        "y": {"field": "y", "type": "quantitative", "scale": {"domain": [0, 1.84], "nice": false, "zero": false}},
        "detail": {"field": "b"},
        "color": {"datum": "Fe₃C-Fe,N/C-900", "type": "nominal"}
       }}
     ]},
     {"layer": [
      {"data": {"name": "dFrame"}, "mark": {"type": "rect", "filled": false, "stroke": "#888", "strokeWidth": 1},
       "encoding": {
        "x": {"field": "x", "type": "quantitative", "scale": {"domain": [-5.984, 42.92], "nice": false, "zero": false}, "axis": {"orient": "bottom", "offset": -74, "values": [0,2,4,6,8,10,12,14,16,18,20,22,24,26], "tickCount": 100, "format": "d", "labelOverlap": false, "domain": false, "title": "Pore size (nm)", "titleFontSize": 8, "titleFontWeight": "bold", "titleX": 92, "titlePadding": 1, "labelFontSize": 6.5, "tickSize": 2, "labelPadding": 1}},
        "x2": {"field": "x2"},
        "y": {"field": "y", "type": "quantitative", "scale": {"domain": [-0.04887, 0.07396], "nice": false, "zero": false}, "axis": {"orient": "left", "offset": -29, "values": [0,0.01,0.02,0.03,0.04,0.05,0.06,0.07], "tickCount": 100, "labelOverlap": false, "format": ".2f", "domain": false, "title": "dv (d) (cm³ nm⁻¹ g⁻¹)", "titleFontSize": 8, "titleFontWeight": "bold", "titleY": 59, "titlePadding": 1, "labelFontSize": 6.5, "tickSize": 2, "labelPadding": 1}},
        "y2": {"field": "y2"}
       }},
      {"data": {"name": "dKi"}, "mark": {"type": "line", "strokeWidth": 0.8, "point": {"shape": "square", "size": 6, "filled": true}},
       "encoding": {
        "x": {"field": "x", "type": "quantitative", "scale": {"domain": [-5.984, 42.92], "nice": false, "zero": false}},
        "y": {"field": "y", "type": "quantitative", "scale": {"domain": [-0.04887, 0.07396], "nice": false, "zero": false}},
        "color": {"datum": "N/C-900", "type": "nominal"}
       }},
      {"data": {"name": "dRi"}, "mark": {"type": "line", "strokeWidth": 0.8, "point": {"shape": "circle", "size": 6, "filled": true}},
       "encoding": {
        "x": {"field": "x", "type": "quantitative", "scale": {"domain": [-5.984, 42.92], "nice": false, "zero": false}},
        "y": {"field": "y", "type": "quantitative", "scale": {"domain": [-0.04887, 0.07396], "nice": false, "zero": false}},
        "color": {"datum": "Fe₃C-Fe,N/C-900", "type": "nominal"}
       }}
     ]}
    ]
   }
  ],
  "spacing": 24,
  "resolve": {"scale": {"color": "independent"}, "legend": {"color": "independent"}}
 }
]
}
